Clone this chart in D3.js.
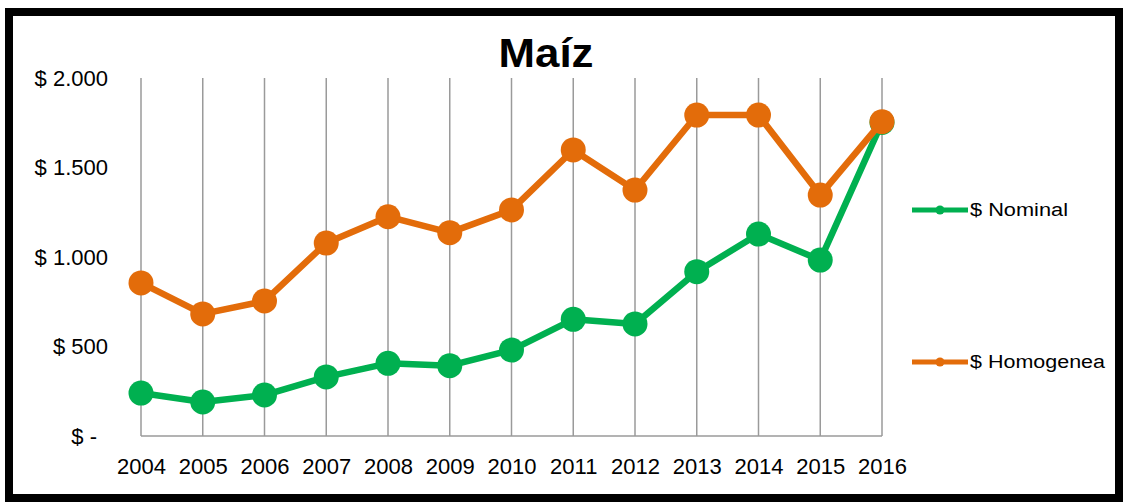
<!DOCTYPE html>
<html>
<head>
<meta charset="utf-8">
<script src="https://cdn.jsdelivr.net/npm/d3@7"></script>
<style>
  html, body { margin: 0; padding: 0; background: #fff; }
  svg { display: block; }
</style>
</head>
<body>
<svg id="chart" width="1124" height="502"></svg>
<script>
// data
var years = [2004, 2005, 2006, 2007, 2008, 2009, 2010, 2011, 2012, 2013, 2014, 2015, 2016];
var nominal = [240, 190, 229, 330, 406, 393, 480, 652, 626, 918, 1128, 983, 1752];
var homogenea = [855, 682, 754, 1078, 1225, 1136, 1263, 1598, 1374, 1793, 1793, 1346, 1756];
var yTicks = [0, 500, 1000, 1500, 2000];
var seriesNames = ["$ Nominal", "$ Homogenea"];
var seriesColors = ["#00b050", "#e36c0a"];

var svg = d3.select("#chart");
var font = "'Liberation Sans', Arial, sans-serif";

// outer frame
svg.append("rect")
  .attr("x", 9).attr("y", 12)
  .attr("width", 1110).attr("height", 486)
  .attr("fill", "#fff")
  .attr("stroke", "#000")
  .attr("stroke-width", 8);

// title
svg.append("text")
  .attr("x", 546).attr("y", 67)
  .attr("text-anchor", "middle")
  .style("font-family", font)
  .style("font-weight", "bold")
  .style("font-size", "40px")
  .attr("textLength", 95)
  .attr("lengthAdjust", "spacingAndGlyphs")
  .text("Maíz");

var x = d3.scalePoint().domain(years).range([141, 882]);
var y = d3.scaleLinear().domain([0, 2000]).range([436, 78]);

var fmt = d3.formatLocale({ decimal: ",", thousands: ".", grouping: [3], currency: ["$", ""] }).format(",.0f");
function money(v) { return v === 0 ? "$ -" : "$ " + fmt(v); }

// vertical gridlines
svg.append("g").selectAll("line")
  .data(years)
  .enter().append("line")
  .attr("x1", function (d) { return x(d); })
  .attr("x2", function (d) { return x(d); })
  .attr("y1", y(2000))
  .attr("y2", y(0))
  .attr("stroke", "#9a9a9a")
  .attr("stroke-width", 1.5);

// x axis
var xAxis = svg.append("g")
  .attr("transform", "translate(0," + y(0) + ")")
  .call(d3.axisBottom(x).tickSize(0).tickPadding(18));
xAxis.select(".domain").attr("stroke", "#9a9a9a").attr("stroke-width", 1.5)
  .attr("d", "M" + x(2004) + ",0H" + x(2016));
xAxis.selectAll("text")
  .style("font-family", font).style("font-size", "22px").attr("fill", "#000")
  .attr("dy", "0.9em");

// y axis (labels only)
var yAxis = svg.append("g")
  .attr("transform", "translate(108,0)")
  .call(d3.axisLeft(y).tickValues(yTicks).tickFormat(money).tickSize(0).tickPadding(0));
yAxis.select(".domain").remove();
yAxis.selectAll("text")
  .style("font-family", font).style("font-size", "22px").attr("fill", "#000")
  .attr("x", function (d) { return d === 0 ? -11 : 0; });

var line = d3.line()
  .x(function (d, i) { return x(years[i]); })
  .y(function (d) { return y(d); });

[nominal, homogenea].forEach(function (vals, s) {
  var g = svg.append("g");
  g.append("path")
    .datum(vals)
    .attr("d", line)
    .attr("fill", "none")
    .attr("stroke", seriesColors[s])
    .attr("stroke-width", 6.5)
    .attr("stroke-linejoin", "round");
  g.selectAll("circle")
    .data(vals)
    .enter().append("circle")
    .attr("cx", function (d, i) { return x(years[i]); })
    .attr("cy", function (d) { return y(d); })
    .attr("r", 12.5)
    .attr("fill", seriesColors[s]);
});

// legend
var legendY = [210, 362];
var legendLen = [98, 135];
seriesNames.forEach(function (name, s) {
  var g = svg.append("g").attr("transform", "translate(912," + legendY[s] + ")");
  g.append("line")
    .attr("x1", 0).attr("x2", 56)
    .attr("stroke", seriesColors[s]).attr("stroke-width", 5);
  g.append("circle")
    .attr("cx", 28).attr("r", 4.5)
    .attr("fill", seriesColors[s]);
  g.append("text")
    .attr("x", 58).attr("y", 0).attr("dy", "0.35em")
    .style("font-family", font).style("font-size", "18px")
    .attr("textLength", legendLen[s])
    .attr("lengthAdjust", "spacingAndGlyphs")
    .text(name);
});
</script>
</body>
</html>
